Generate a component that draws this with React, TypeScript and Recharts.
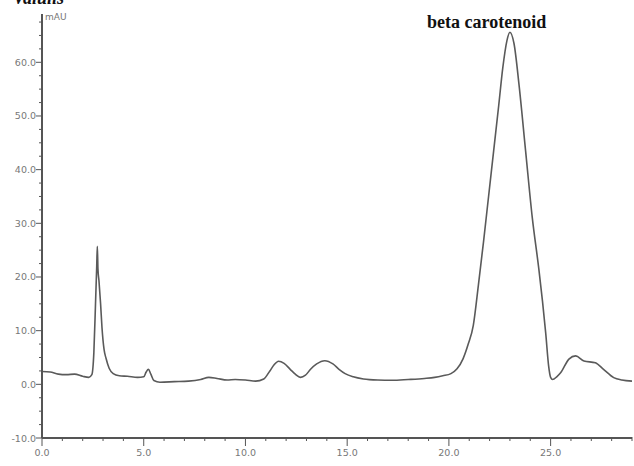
import { LineChart, Line, XAxis, YAxis } from 'recharts';

// retention time (min) and absorbance (mAU)
const time = [
  0.0, 0.4, 0.8, 1.2, 1.6, 2.0, 2.3, 2.45, 2.55, 2.63, 2.69, 2.72, 2.75, 2.8, 2.88, 2.95,
  3.05, 3.15, 3.3, 3.5, 3.8, 4.2, 4.7, 5.0, 5.12, 5.23, 5.35, 5.5, 5.8, 6.5, 7.2, 7.8,
  8.2, 8.6, 9.1, 9.5, 10.0, 10.5, 10.9, 11.2, 11.4, 11.63, 11.9, 12.2, 12.45, 12.7, 12.95,
  13.2, 13.5, 13.9, 14.3, 14.6, 14.9, 15.3, 15.8, 16.5, 17.2, 18.0, 18.8, 19.3, 19.7,
  20.1, 20.4, 20.7, 20.95, 21.2, 21.45, 21.7, 21.95, 22.2, 22.45, 22.65, 22.85, 23.0,
  23.2, 23.45, 23.77, 24.1, 24.42, 24.6, 24.76, 24.9, 25.0, 25.1, 25.3, 25.5, 25.9, 26.23,
  26.64, 27.2, 27.6, 28.1, 28.5, 29.0,
];
const mAU = [
  2.4, 2.3, 1.9, 1.8, 1.9, 1.5, 1.3, 1.8, 6.0, 15.0, 22.0, 25.7, 21.5, 19.3, 15.0, 10.5,
  6.5, 4.8, 3.0, 2.0, 1.6, 1.5, 1.3, 1.4, 2.3, 2.8, 1.9, 0.7, 0.4, 0.5, 0.6, 0.9,
  1.3, 1.1, 0.8, 0.9, 0.8, 0.6, 1.0, 2.5, 3.6, 4.3, 3.9, 2.8, 1.9, 1.3, 1.7,
  2.8, 3.8, 4.4, 3.8, 2.8, 2.0, 1.4, 1.0, 0.8, 0.75, 0.9, 1.1, 1.3, 1.6,
  2.0, 2.9, 4.8, 7.5, 11.0, 18.5, 26.5, 35.0, 43.5, 52.0, 59.0, 64.0, 65.6,
  63.5, 55.7, 43.5, 31.0, 21.5, 15.5, 9.5, 3.5, 1.3, 0.9, 1.4, 2.2, 4.7, 5.3,
  4.35, 4.0, 2.8, 1.25, 0.8, 0.6,
];

const xTicks = [0, 1, 2, 3, 4, 5, 6, 7, 8, 9, 10, 11, 12, 13, 14, 15, 16, 17, 18, 19, 20, 21, 22, 23, 24, 25, 26, 27, 28, 29];
const yTicks = [-10, -7.5, -5, -2.5, 0, 2.5, 5, 7.5, 10, 12.5, 15, 17.5, 20, 22.5, 25, 27.5, 30, 32.5, 35, 37.5, 40, 42.5, 45, 47.5, 50, 52.5, 55, 57.5, 60, 62.5, 65, 67.5];

const data = time.map((t, i) => ({ t, v: mAU[i] }));

const INK = '#555';
const TXT = '#777';

function XTick({ x, y, payload }: any) {
  const major = payload.value % 5 === 0;
  return (
    <g>
      <line x1={x} x2={x} y1={y - 1} y2={y + (major ? 8 : 3)} stroke={INK} strokeWidth={1} />
      {major && (
        <text x={x} y={y + 18} textAnchor="middle" fontSize={9.5} fill={TXT} fontFamily="DejaVu Sans">
          {payload.value.toFixed(1)}
        </text>
      )}
    </g>
  );
}

function YTick({ x, y, payload }: any) {
  const major = payload.value % 10 === 0;
  return (
    <g>
      <line x1={x - (major ? 6 : 3)} x2={x + 1} y1={y} y2={y} stroke={INK} strokeWidth={1} />
      {major && (
        <text x={x - 6} y={y + 3.5} textAnchor="end" fontSize={9.5} fill={TXT} fontFamily="DejaVu Sans">
          {payload.value.toFixed(1)}
        </text>
      )}
    </g>
  );
}

export default function App() {
  return (
    <div style={{ position: 'absolute', left: 0, top: 0, width: 634, height: 466, background: '#fff' }}>
      <LineChart width={634} height={466} data={data} margin={{ top: 14, right: 2, bottom: 0, left: 0 }}>
        <XAxis
          dataKey="t"
          type="number"
          domain={[0, 29]}
          ticks={xTicks}
          interval={0}
          height={28}
          tickSize={0}
          tickMargin={0}
          tickLine={false}
          tick={<XTick />}
          axisLine={{ stroke: INK, strokeWidth: 2 }}
        />
        <YAxis
          type="number"
          domain={[-10, 69]}
          ticks={yTicks}
          interval={0}
          width={42}
          tickSize={0}
          tickMargin={0}
          tickLine={false}
          tick={<YTick />}
          axisLine={{ stroke: INK, strokeWidth: 2 }}
          allowDataOverflow
        />
        <Line
          type="monotone"
          dataKey="v"
          stroke="#5a5a5a"
          strokeWidth={1.6}
          dot={false}
          isAnimationActive={false}
        />
      </LineChart>
      <svg width={634} height={466} style={{ position: 'absolute', left: 0, top: 0, pointerEvents: 'none' }}>
        <text x={13} y={4} fontSize={18} fontWeight="bold" fontStyle="italic" fontFamily="Liberation Serif" fill="#111">
          Valulis
        </text>
        <text x={45} y={20} fontSize={9} fill={TXT} fontFamily="DejaVu Sans">mAU</text>
        <text x={427} y={28} fontSize={18} fontWeight="bold" fontFamily="Liberation Serif" fill="#111">
          beta carotenoid
        </text>
      </svg>
    </div>
  );
}
